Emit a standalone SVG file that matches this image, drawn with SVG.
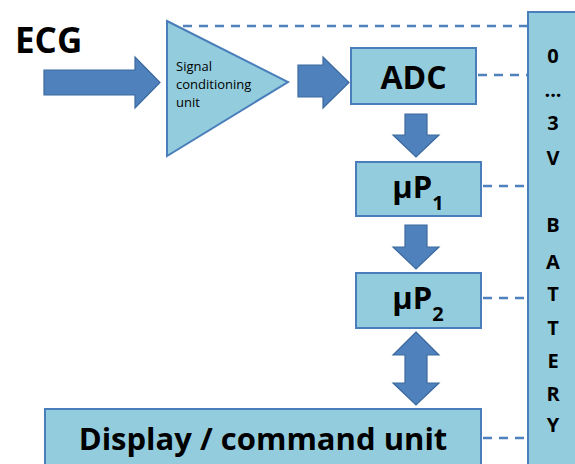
<svg xmlns="http://www.w3.org/2000/svg" width="575" height="464" viewBox="0 0 575 464">
<style>
.box{fill:#93CDDD;stroke:#4A7EBB;stroke-width:2}
.arr{fill:#4F81BD;stroke:#3C6A9F;stroke-width:1.2}
.dash{stroke:#4F81BD;stroke-width:2.5;stroke-dasharray:9,7;fill:none}
.t{font-family:"Open Sans","Liberation Sans",sans-serif;font-weight:bold;fill:#000}
.s{font-family:"Open Sans","Liberation Sans",sans-serif;font-size:13px;fill:#000}
.b{font-family:"Open Sans","Liberation Sans",sans-serif;font-weight:bold;font-size:20px;fill:#000;text-anchor:middle}
</style>
<rect width="575" height="464" fill="#fff"/>
<g id="connectors">
<path class="dash" d="M183 26H528"/>
<path class="dash" d="M478 75H528"/>
<path class="dash" d="M483 186H528"/>
<path class="dash" d="M483 298H528"/>
<path class="dash" d="M483 438H528"/>
<path class="arr" d="M44 70H135V57L160 82.5L135 108V95H44Z"/>
<path class="arr" d="M298 65H323V57L349 82.5L323 108V97H298Z"/>
<path class="arr" d="M405 114H427V135H439L416 157L393 135H405Z"/>
<path class="arr" d="M405 225H427V247H439L416 269L393 247H405Z"/>
<path class="arr" d="M416 332L439 355H427V383H439L416 405L393 383H405V355H393Z"/>
</g>
<g id="ecg"><text class="t" x="15" y="53" font-size="35">ECG</text></g>
<g id="signal-conditioning">
<path class="box" d="M167 21L288 82L167 156Z"/>
<text class="s" x="176" y="71">Signal</text>
<text class="s" x="176" y="89">conditioning</text>
<text class="s" x="176" y="107">unit</text>
</g>
<g id="adc">
<rect class="box" x="351" y="48" width="125" height="56"/>
<text class="t" x="413.5" y="89" font-size="32" text-anchor="middle">ADC</text>
</g>
<g id="up1">
<rect class="box" x="356" y="162" width="125" height="54"/>
<text class="t" x="418" y="198" font-size="31" text-anchor="middle">μP<tspan font-size="20" dy="12">1</tspan></text>
</g>
<g id="up2">
<rect class="box" x="356" y="273" width="125" height="55"/>
<text class="t" x="418" y="309" font-size="31" text-anchor="middle">μP<tspan font-size="20" dy="12">2</tspan></text>
</g>
<g id="display">
<rect class="box" x="45" y="409" width="436" height="70"/>
<text class="t" x="263" y="450" font-size="31" text-anchor="middle">Display / command unit</text>
</g>
<g id="battery">
<rect class="box" x="528" y="12" width="60" height="470"/>
<text class="b" x="553" y="63">0</text>
<text class="b" x="553" y="97">...</text>
<text class="b" x="553" y="130">3</text>
<text class="b" x="553" y="165">V</text>
<text class="b" x="553" y="232">B</text>
<text class="b" x="553" y="269">A</text>
<text class="b" x="553" y="301">T</text>
<text class="b" x="553" y="335">T</text>
<text class="b" x="553" y="368">E</text>
<text class="b" x="553" y="401">R</text>
<text class="b" x="553" y="432">Y</text>
</g>
</svg>
